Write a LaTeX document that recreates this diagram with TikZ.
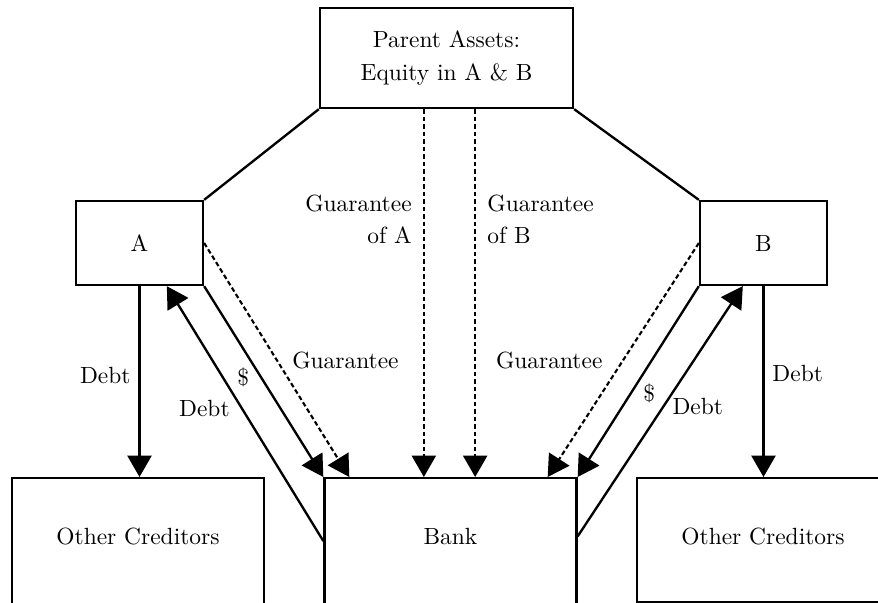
\documentclass[tikz,border=0pt]{standalone}
\usetikzlibrary{arrows.meta}
\begin{document}
\begin{tikzpicture}[x=.015cm,y=-.015cm,line width=1pt,
box/.style={draw,minimum width=1.905cm,minimum height=1.26cm},
bot/.style={draw,anchor=north,inner ysep=0,minimum width=3.78cm,text height=.99cm,text depth=1.155cm},
tip/.style={-{Triangle[length=.32cm,width=.36cm]}},
gar/.style={tip,line width=.9pt,dash pattern=on 2pt off 1.2pt}]
\useasboundingbox(0,0)rectangle(878,602);
\clip(0,0)rectangle(878,602);
\node[draw,minimum width=3.795cm,minimum height=1.5cm,align=center](P)at(446.5,58){Parent Assets:\\[2pt]Equity in A \& B};
\node[box](A)at(139.5,243){A};
\node[box](B)at(763.5,243){B};
\node[bot](C1)at(138,477){Other Creditors};
\node[bot](Bk)at(450.5,477){Bank};
\node[bot,text depth=.87cm](C2)at(763,477){Other Creditors};
\draw(P.south west)--(A.north east);
\draw(P.south east)--(B.north west);
\draw[gar]([xshift=-.34cm]P.south)--([xshift=-.34cm]P.south|-Bk.north)node[pos=.3,left=.5mm,align=right]{Guarantee\\[1.5pt]of A};
\draw[gar]([xshift=.43cm]P.south)--([xshift=.43cm]P.south|-Bk.north)node[pos=.3,right=.5mm,align=left]{Guarantee\\[1.5pt]of B};
\draw[tip](A.south)--(A.south|-C1.north)node[pos=.47,left]{Debt};
\draw[tip](B.south)--(B.south|-C2.north)node[pos=.46,right]{Debt};
\draw[tip](A.south east)--(Bk.north west)node[pos=.48,left=.5mm]{\$};
\draw[tip]([yshift=.13cm]Bk.west)--([xshift=.41cm]A.south)node[pos=.52,left=.5mm]{Debt};
\draw[gar](A.east)--([xshift=.39cm]Bk.north west)node[pos=.5,right=1mm]{Guarantee};
\draw[gar](B.west)--([xshift=-.45cm]Bk.north east)node[pos=.5,left=1.8mm]{Guarantee};
\draw[tip](B.south west)--(Bk.north east)node[pos=.56,right=.5mm]{\$};
\draw[tip]([yshift=.2cm]Bk.east)--([xshift=-.31cm]B.south)node[pos=.52,right]{Debt};
\end{tikzpicture}
\end{document}
